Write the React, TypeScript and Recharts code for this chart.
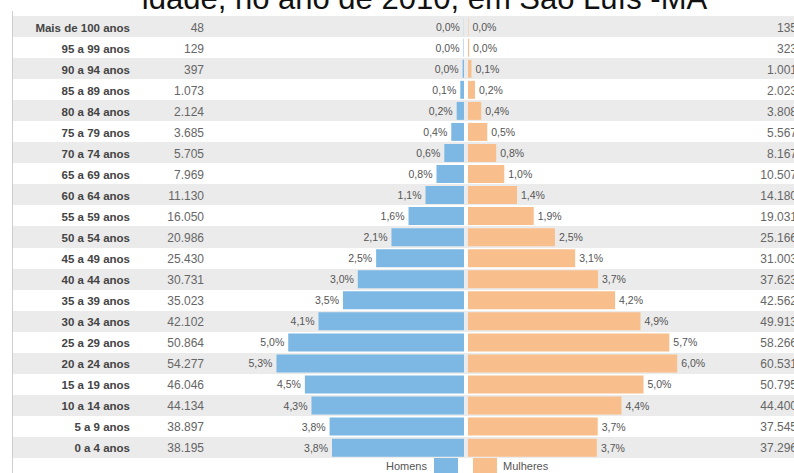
import React from 'react'
import { BarChart, Bar, XAxis, YAxis, CartesianGrid, LabelList, Legend } from 'recharts'

const ages = [
  'Mais de 100 anos', '95 a 99 anos', '90 a 94 anos', '85 a 89 anos', '80 a 84 anos',
  '75 a 79 anos', '70 a 74 anos', '65 a 69 anos', '60 a 64 anos', '55 a 59 anos',
  '50 a 54 anos', '45 a 49 anos', '40 a 44 anos', '35 a 39 anos', '30 a 34 anos',
  '25 a 29 anos', '20 a 24 anos', '15 a 19 anos', '10 a 14 anos', '5 a 9 anos', '0 a 4 anos',
]
const menCount = [48, 129, 397, 1073, 2124, 3685, 5705, 7969, 11130, 16050, 20986, 25430, 30731, 35023, 42102, 50864, 54277, 46046, 44134, 38897, 38195]
const womenCount = [135, 323, 1001, 2023, 3808, 5567, 8167, 10507, 14180, 19031, 25166, 31003, 37623, 42562, 49913, 58266, 60531, 50795, 44400, 37545, 37296]
// share of the total population, in %
const menPct = [0.005, 0.013, 0.04, 0.106, 0.209, 0.363, 0.562, 0.785, 1.097, 1.582, 2.068, 2.506, 3.028, 3.451, 4.149, 5.012, 5.348, 4.537, 4.349, 3.833, 3.764]
const womenPct = [0.013, 0.032, 0.099, 0.199, 0.376, 0.549, 0.805, 1.035, 1.397, 1.875, 2.48, 3.055, 3.707, 4.194, 4.918, 5.741, 5.965, 5.005, 4.376, 3.7, 3.675]
const seriesNames = ['Homens', 'Mulheres']

const BLUE = '#7db8e4'
const ORANGE = '#f8bf8c'
const FONT = '"Liberation Sans", Arial, sans-serif'

const rows = ages.map((age, i) => ({
  age,
  men: menPct[i],
  women: womenPct[i],
}))

const pct = (v: number) => v.toFixed(1).replace('.', ',') + '%'
const thousands = (n: number) => String(n).replace(/\B(?=(\d{3})+(?!\d))/g, '.')

const rowBounds = ({ offset }: any) =>
  ages.map((_, i) => offset.top + (i * offset.height) / ages.length)

function MenTick(props: any) {
  const { x, y, payload } = props
  const i = ages.indexOf(payload.value)
  return (
    <g>
      <text x={x - 78} y={y + 1} textAnchor="end" dominantBaseline="central" fontSize={11.5} fontWeight={700} fill="#444" fontFamily={FONT}>
        {payload.value}
      </text>
      <text x={x - 4} y={y + 1} textAnchor="end" dominantBaseline="central" fontSize={12} fill="#666" fontFamily={FONT}>
        {thousands(menCount[i])}
      </text>
    </g>
  )
}

function WomenTick(props: any) {
  const { x, y, payload } = props
  const i = ages.indexOf(payload.value)
  return (
    <text x={x + 73} y={y + 1} textAnchor="end" dominantBaseline="central" fontSize={12} fill="#666" fontFamily={FONT}>
      {thousands(womenCount[i])}
    </text>
  )
}

const box = (p: any) => {
  const vb = p.viewBox ?? p
  return { x: Number(vb.x), y: Number(vb.y), w: Number(vb.width), h: Number(vb.height) }
}

const menLabel = (p: any) => {
  const { x, y, w, h } = box(p)
  return (
    <text x={Math.min(x, x + w) - 4} y={y + h / 2} textAnchor="end" dominantBaseline="central" fontSize={10.5} fill="#555" fontFamily={FONT}>
      {pct(Number(p.value))}
    </text>
  )
}

const womenLabel = (p: any) => {
  const { x, y, w, h } = box(p)
  return (
    <text x={Math.max(x, x + w) + 4} y={y + h / 2} textAnchor="start" dominantBaseline="central" fontSize={10.5} fill="#555" fontFamily={FONT}>
      {pct(Number(p.value))}
    </text>
  )
}

function LegendContent() {
  const swatch = (c: string) => <span style={{ display: 'inline-block', width: 24, height: 16, background: c }} />
  return (
    <div style={{ position: 'relative', width: 794, height: 16, fontSize: 11, color: '#555', fontFamily: FONT }}>
      <div style={{ position: 'absolute', right: 794 - 458, top: 1, display: 'flex', alignItems: 'center', gap: 7 }}>
        <span>{seriesNames[0]}</span>
        {swatch(BLUE)}
      </div>
      <div style={{ position: 'absolute', left: 473, top: 1, display: 'flex', alignItems: 'center', gap: 6 }}>
        {swatch(ORANGE)}
        <span>{seriesNames[1]}</span>
      </div>
    </div>
  )
}

export default function App() {
  return (
    <div style={{ position: 'fixed', left: 0, top: 0, width: 794, height: 473, background: '#fff', overflow: 'hidden', fontFamily: FONT }}>
      <div style={{ position: 'absolute', left: 0, top: 0 }}>
        <BarChart width={794} height={473} data={rows} layout="vertical" barCategoryGap="8%"
          margin={{ top: 16, right: 330, bottom: 15, left: 13 }}>
          <CartesianGrid x={13} width={781} vertical={false} stroke="none"
            horizontalFill={['#ebebeb', '#ffffff']} horizontalCoordinatesGenerator={rowBounds} />
          <XAxis type="number" domain={[0, 7.3]} allowDataOverflow reversed hide />
          <YAxis type="category" dataKey="age" width={195} tickSize={0} tickMargin={0}
            axisLine={false} tickLine={false} interval={0} tick={<MenTick />} />
          <Bar dataKey="men" name={seriesNames[0]} fill={BLUE} isAnimationActive={false}>
            <LabelList dataKey="men" content={menLabel} />
          </Bar>
          <Legend layout="horizontal" align="center" verticalAlign="middle" content={<LegendContent />}
            wrapperStyle={{ top: 457, left: 0, width: 794, height: 16 }} />
        </BarChart>
      </div>
      <div style={{ position: 'absolute', left: 464, top: 0 }}>
        <BarChart width={330} height={473} data={rows} layout="vertical" barCategoryGap="8%"
          margin={{ top: 16, right: 0, bottom: 15, left: 4 }}>
          <XAxis type="number" domain={[0, 7.3]} allowDataOverflow hide />
          <YAxis type="category" dataKey="age" orientation="right" width={70} tickSize={0} tickMargin={0}
            axisLine={false} tickLine={false} interval={0} tick={<WomenTick />} />
          <Bar dataKey="women" name={seriesNames[1]} fill={ORANGE} isAnimationActive={false}>
            <LabelList dataKey="women" content={womenLabel} />
          </Bar>
        </BarChart>
      </div>
      <div style={{ position: 'absolute', left: 12, top: 11, width: 1, height: 462, background: '#cfcfcf' }} />
      <svg width={794} height={14} style={{ position: 'absolute', left: 0, top: 0 }}>
        <text x={424.5} y={9} textAnchor="middle" fontSize={31} fill="#111" fontFamily={FONT}>
          idade, no ano de 2010, em São Luís -MA
        </text>
      </svg>
    </div>
  )
}
